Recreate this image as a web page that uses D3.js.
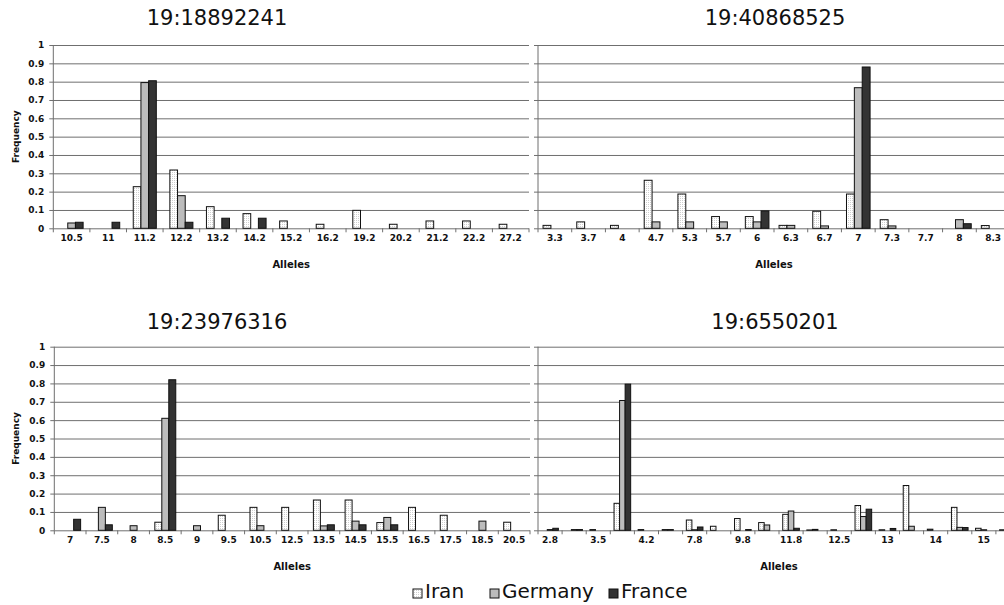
<!DOCTYPE html>
<html>
<head>
<meta charset="utf-8">
<script src="https://cdn.jsdelivr.net/npm/d3@7"></script>
<style>
  body { margin: 0; background: #fff; }
  svg { display: block; font-family: "DejaVu Sans", sans-serif; }
</style>
</head>
<body>
<svg id="chart" width="1004" height="605"></svg>
<script>
  /* ---------- DATA ---------- */

  const seriesNames = ["Iran", "Germany", "France"];
  const yTicks = [0, 0.1, 0.2, 0.3, 0.4, 0.5, 0.6, 0.7, 0.8, 0.9, 1];

  // 19:18892241
  const tlAlleles = ["10.5", "11", "11.2", "12.2", "13.2", "14.2", "15.2", "16.2", "19.2", "20.2", "21.2", "22.2", "27.2"];
  const tlIran    = [0, 0, 0.227, 0.318, 0.118, 0.08, 0.04, 0.022, 0.098, 0.022, 0.04, 0.04, 0.022];
  const tlGermany = [0.029, 0, 0.795, 0.178, 0, 0, 0, 0, 0, 0, 0, 0, 0];
  const tlFrance  = [0.033, 0.033, 0.805, 0.033, 0.055, 0.055, 0, 0, 0, 0, 0, 0, 0];

  // 19:40868525
  const trAlleles = ["3.3", "3.7", "4", "4.7", "5.3", "5.7", "6", "6.3", "6.7", "7", "7.3", "7.7", "8", "8.3"];
  const trIran    = [0.016, 0.035, 0.016, 0.262, 0.187, 0.064, 0.064, 0.016, 0.093, 0.187, 0.047, 0, 0, 0.015];
  const trGermany = [0, 0, 0, 0.035, 0.035, 0.035, 0.035, 0.016, 0.013, 0.767, 0.013, 0, 0.047, 0];
  const trFrance  = [0, 0, 0, 0, 0, 0, 0.095, 0, 0, 0.88, 0, 0, 0.025, 0];

  // 19:23976316
  const blAlleles = ["7", "7.5", "8", "8.5", "9", "9.5", "10.5", "12.5", "13.5", "14.5", "15.5", "16.5", "17.5", "18.5", "20.5"];
  const blIran    = [0, 0, 0, 0.044, 0, 0.082, 0.125, 0.125, 0.165, 0.165, 0.042, 0.125, 0.082, 0, 0.044];
  const blGermany = [0, 0.125, 0.025, 0.61, 0.025, 0, 0.025, 0, 0.024, 0.05, 0.07, 0, 0, 0.05, 0];
  const blFrance  = [0.06, 0.03, 0, 0.82, 0, 0, 0, 0, 0.03, 0.03, 0.03, 0, 0, 0, 0];

  // 19:6550201 (only every other allele is labelled on the axis)
  const brAlleles = ["2.8", "3.2", "3.5", "3.8", "4.2", "5", "7.8", "8.8", "9.8", "10.8", "11.8", "12.2", "12.5", "12.8", "13", "13.5", "14", "14.5", "15", "15.5"];
  const brIran    = [0, 0, 0.004, 0.147, 0.004, 0.004, 0.056, 0.022, 0.064, 0.042, 0.087, 0.002, 0.003, 0.135, 0.003, 0.244, 0.006, 0.125, 0.011, 0.003];
  const brGermany = [0.004, 0.004, 0, 0.707, 0, 0.004, 0.003, 0, 0, 0.029, 0.105, 0.005, 0, 0.075, 0, 0.022, 0, 0.016, 0.003, 0];
  const brFrance  = [0.011, 0.004, 0, 0.796, 0, 0, 0.018, 0, 0.004, 0, 0.011, 0, 0, 0.115, 0.01, 0, 0, 0.015, 0, 0];

  /* ---------- SETUP ---------- */

  const svg = d3.select("#chart");

  const FILLS = { Iran: "url(#dots)", Germany: "#bcbcbc", France: "#333333" };
  const GRID = "#6f6f6f";

  const defs = svg.append("defs");
  const pat = defs.append("pattern")
    .attr("id", "dots")
    .attr("width", 2)
    .attr("height", 2)
    .attr("patternUnits", "userSpaceOnUse");
  pat.append("rect").attr("width", 2).attr("height", 2).attr("fill", "#ffffff");
  pat.append("rect").attr("width", 1).attr("height", 1).attr("fill", "#cfcfcf");

  const panels = [
    { title: "19:18892241", alleles: tlAlleles, values: [tlIran, tlGermany, tlFrance],
      left: 53.3, right: 529, top: 45, bottom: 228.3, group: 0.63, every: 1,
      yLabels: true, titleX: 217, titleY: 25 },
    { title: "19:40868525", alleles: trAlleles, values: [trIran, trGermany, trFrance],
      left: 538, right: 1010, top: 45, bottom: 228.3, group: 0.7, every: 1,
      yLabels: false, titleX: 775, titleY: 25 },
    { title: "19:23976316", alleles: blAlleles, values: [blIran, blGermany, blFrance],
      left: 54.3, right: 530, top: 346.7, bottom: 530.3, group: 0.66, every: 1,
      yLabels: true, titleX: 217, titleY: 329 },
    { title: "19:6550201", alleles: brAlleles, values: [brIran, brGermany, brFrance],
      left: 538, right: 1020, top: 346.7, bottom: 530.3, group: 0.69, every: 2,
      yLabels: false, titleX: 775, titleY: 329 }
  ];

  /* ---------- DRAW ---------- */

  function drawPanel(p) {
    const g = svg.append("g");
    const w = p.right - p.left;

    const x = d3.scaleBand().domain(p.alleles).range([p.left, p.right]);
    const y = d3.scaleLinear().domain([0, 1]).range([p.bottom, p.top]);

    const bw = x.bandwidth();
    const gw = bw * p.group;
    const inner = d3.scaleBand()
      .domain(seriesNames)
      .range([(bw - gw) / 2, (bw + gw) / 2]);

    // gridlines + y ticks (ticks stick out left of the axis)
    g.append("g")
      .attr("transform", `translate(${p.left - 4},0)`)
      .call(
        d3.axisLeft(y)
          .tickValues(yTicks)
          .tickSize(-(w + 4))
          .tickSizeOuter(0)
          .tickPadding(5)
          .tickFormat(d => (p.yLabels ? d3.format("")(d) : ""))
      )
      .call(a => a.select(".domain").remove())
      .call(a => a.selectAll("line").attr("stroke", GRID).attr("stroke-width", 1))
      .call(a =>
        a.selectAll("text")
          .attr("fill", "#111")
          .style("font-size", "9px")
          .style("font-weight", "bold")
          .style("font-family", "'DejaVu Sans', sans-serif")
      );

    // y axis line
    g.append("line")
      .attr("x1", p.left).attr("x2", p.left)
      .attr("y1", y(0)).attr("y2", y(1))
      .attr("stroke", GRID);

    // bars
    const rows = [];
    p.alleles.forEach((a, i) => {
      seriesNames.forEach((s, j) => {
        const v = p.values[j][i];
        if (v > 0) rows.push({ allele: a, series: s, value: v });
      });
    });

    g.append("g")
      .selectAll("rect")
      .data(rows)
      .join("rect")
      .attr("x", d => x(d.allele) + inner(d.series))
      .attr("y", d => y(d.value))
      .attr("width", inner.bandwidth())
      .attr("height", d => y(0) - y(d.value))
      .attr("fill", d => FILLS[d.series])
      .attr("stroke", "#111")
      .attr("stroke-width", 1);

    // x ticks between categories
    const bounds = p.alleles.map(a => x(a)).concat([p.right]);
    g.append("g")
      .selectAll("line")
      .data(bounds)
      .join("line")
      .attr("x1", d => d).attr("x2", d => d)
      .attr("y1", y(0)).attr("y2", y(0) + 4)
      .attr("stroke", GRID);

    // x labels
    g.append("g")
      .attr("transform", `translate(0,${p.bottom})`)
      .call(
        d3.axisBottom(x)
          .tickSize(0)
          .tickPadding(6)
          .tickFormat((d, i) => (i % p.every ? "" : d))
      )
      .call(a => a.select(".domain").remove())
      .call(a =>
        a.selectAll("text")
          .attr("fill", "#111")
          .style("font-size", "9px")
          .style("font-weight", "bold")
          .style("font-family", "'DejaVu Sans', sans-serif")
      );

    g.append("text")
      .attr("x", p.left + w / 2)
      .attr("y", p.bottom + 40)
      .attr("text-anchor", "middle")
      .attr("fill", "#111")
      .style("font-size", "10px")
      .style("font-weight", "bold")
      .text("Alleles");

    if (p.yLabels) {
      g.append("text")
        .attr("transform", `translate(19,${(p.top + p.bottom) / 2}) rotate(-90)`)
        .attr("text-anchor", "middle")
        .attr("fill", "#111")
        .style("font-size", "9px")
        .style("font-weight", "bold")
        .text("Frequency");
    }

    svg.append("text")
      .attr("x", p.titleX)
      .attr("y", p.titleY)
      .attr("text-anchor", "middle")
      .attr("fill", "#111")
      .style("font-size", "21px")
      .text(p.title);
  }

  panels.forEach(drawPanel);

  /* ---------- LEGEND ---------- */

  const legendX = [413, 490, 609];
  const legend = svg.append("g");
  seriesNames.forEach((s, i) => {
    legend.append("rect")
      .attr("x", legendX[i])
      .attr("y", 589)
      .attr("width", 9)
      .attr("height", 9)
      .attr("fill", FILLS[s])
      .attr("stroke", "#111");
    legend.append("text")
      .attr("x", legendX[i] + 12)
      .attr("y", 598)
      .attr("fill", "#111")
      .style("font-size", "20px")
      .text(s);
  });
</script>
</body>
</html>
